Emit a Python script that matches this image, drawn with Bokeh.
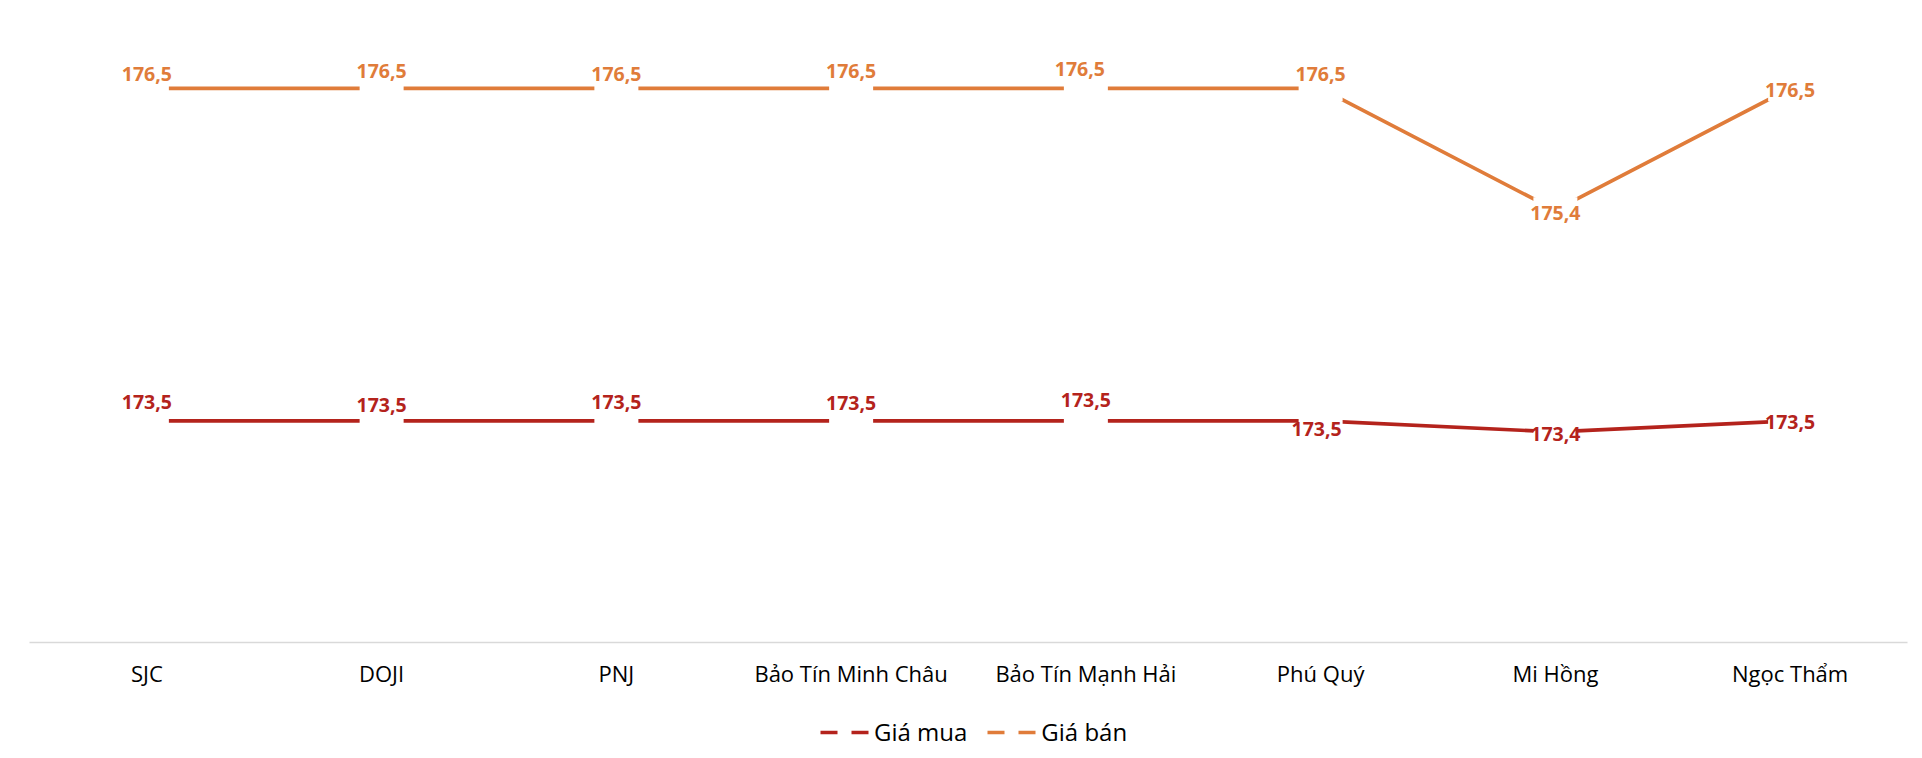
from bokeh.plotting import figure
from bokeh.layouts import column
from bokeh.models import FactorRange, Range1d, ColumnDataSource, Legend, LegendItem
from bokeh.core.properties import value
from bokeh.embed import file_html
from bokeh.resources import INLINE

# ---------------- data ----------------
categories = ["SJC", "DOJI", "PNJ", "Bảo Tín Minh Châu", "Bảo Tín Mạnh Hải",
              "Phú Quý", "Mi Hồng", "Ngọc Thẩm"]
gia_mua = [173.5, 173.5, 173.5, 173.5, 173.5, 173.5, 173.4, 173.5]
gia_ban = [176.5, 176.5, 176.5, 176.5, 176.5, 176.5, 175.4, 176.5]
series_names = ["Giá mua", "Giá bán"]

# ---------------- label placement (screen px) ----------------
ban_dx = [0, 0, 0, 0, -6, 0, 0, 0]
ban_dy = [-14, -17, -14, -17, -19, -14, 3, 2]
mua_dx = [0, 0, 0, 0, 0, -4, 0, 0]
mua_dy = [-19, -16, -19, -18, -21, 8, 2, 1]

RED = "#B4231C"
ORANGE = "#E07C3A"
FONT = "Open Sans"


def fmt(v):
    return f"{v:.1f}".replace(".", ",")


p = figure(
    x_range=FactorRange(*categories, range_padding=0),
    y_range=Range1d(171.5, 177.22),
    width=1914, height=690,
    output_backend="svg", toolbar_location=None,
    y_axis_location=None,
    min_border_left=29, min_border_right=7, min_border_top=8, min_border_bottom=47,
)
p.outline_line_color = None
p.xgrid.grid_line_color = None
p.ygrid.grid_line_color = None
p.background_fill_color = "white"
p.border_fill_color = "white"

ax = p.xaxis[0]
ax.axis_line_color = "#D9D9D9"
ax.axis_line_width = 1.5
ax.major_tick_line_color = None
ax.minor_tick_line_color = None
ax.major_label_text_font = FONT
ax.major_label_text_font_size = "22px"
ax.major_label_text_color = "#000000"
ax.major_label_standoff = 9

src_mua = ColumnDataSource(dict(x=categories, y=gia_mua, t=[fmt(v) for v in gia_mua], dx=mua_dx, dy=mua_dy))
src_ban = ColumnDataSource(dict(x=categories, y=gia_ban, t=[fmt(v) for v in gia_ban], dx=ban_dx, dy=ban_dy))

for src, col in ((src_mua, RED), (src_ban, ORANGE)):
    p.line("x", "y", source=src, line_color=col, line_width=3.7)
    p.rect("x", "y", source=src, width=44, height=26, width_units="screen",
           height_units="screen", fill_color="white", line_color=None)
    p.text("x", "y", text="t", source=src, x_offset="dx", y_offset="dy",
           text_color=col, text_font=value(FONT), text_font_style="bold",
           text_font_size="19.5px", text_align="center", text_baseline="alphabetic")

# ---------------- legend strip (separate figure below the chart) ----------------
lg = figure(
    x_range=Range1d(0, 1), y_range=Range1d(0, 1),
    width=1914, height=60,
    output_backend="svg", toolbar_location=None,
    x_axis_location=None, y_axis_location=None,
    min_border_left=29, min_border_right=7, min_border_top=0, min_border_bottom=0,
)
lg.outline_line_color = None
lg.xgrid.grid_line_color = None
lg.ygrid.grid_line_color = None

nan = float("nan")
leg_mua = lg.line(x=[0, 1], y=[nan, nan], line_color=RED, line_width=3.6, line_dash="17 14")
leg_ban = lg.line(x=[0, 1], y=[nan, nan], line_color=ORANGE, line_width=3.6, line_dash="17 14")

legend = Legend(
    items=[LegendItem(label=series_names[0], renderers=[leg_mua]),
           LegendItem(label=series_names[1], renderers=[leg_ban])],
    orientation="horizontal",
    location=(791, 2),
    border_line_color=None, background_fill_alpha=0,
    glyph_width=52, glyph_height=20, label_standoff=2, spacing=20,
    padding=0, margin=0,
    label_text_font=FONT, label_text_font_size="24px", label_text_color="#000000",
)
lg.add_layout(legend, "center")

page = column(p, lg, spacing=0)
open("out.html", "w").write(file_html(page, INLINE))
